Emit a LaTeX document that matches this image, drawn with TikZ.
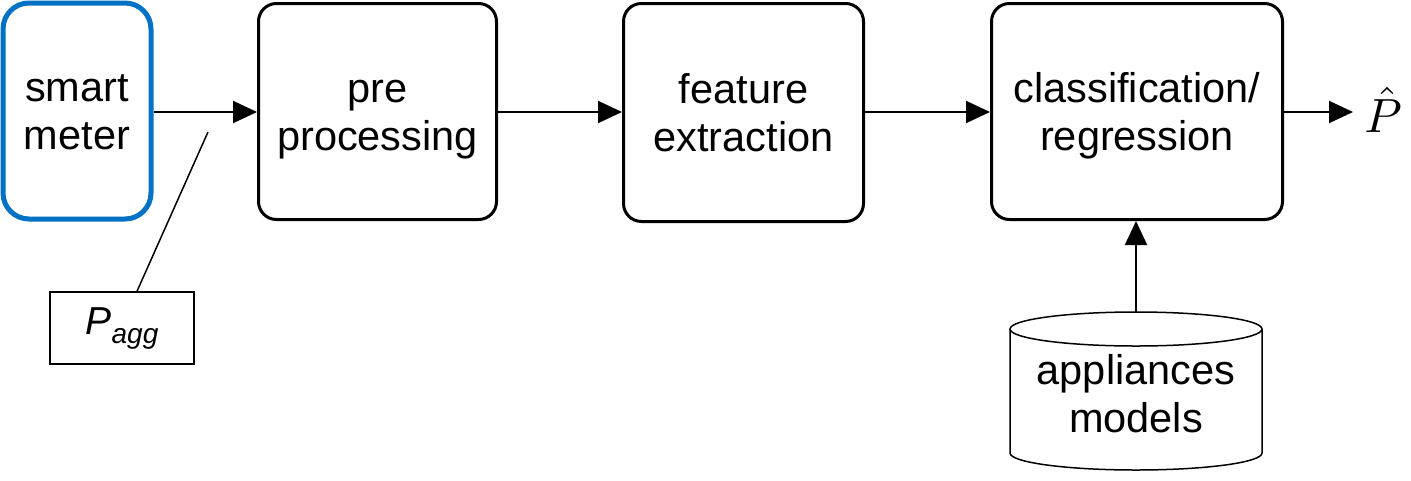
\documentclass[tikz,border=0pt]{standalone}
\usepackage{fontspec}
\setmainfont{Liberation Sans}
\usetikzlibrary{arrows.meta,calc}
\definecolor{smblue}{RGB}{0,114,198}
\newcommand\firststrut{\rule{0pt}{38pt}}
\newcommand\laststrut{\vphantom{Agp}}
\begin{document}
\begin{tikzpicture}[x=1pt,y=-1pt,
  block/.style={draw=black,line width=3pt,rounded corners=18pt,fill=white,
    align=center,inner sep=0pt,font=\fontsize{41.5}{48}\selectfont},
  conn/.style={line width=2pt,-{Triangle[length=24pt,width=22pt]}},
  thin/.style={line width=1.5pt}]
\useasboundingbox (0,0) rectangle (1411,480);
\node[block,draw=smblue,line width=5pt,rounded corners=26pt,minimum width=148pt,minimum height=216pt] (sm) at (77,111) {\firststrut smart\\meter\laststrut};
\node[block,minimum width=238pt,minimum height=216pt] (pre) at (377.5,111.5) {\firststrut pre\\processing\laststrut};
\node[block,minimum width=240pt,minimum height=218pt] (fe) at (743.5,112.5) {\firststrut feature\\extraction\laststrut};
\node[block,minimum width=291pt,minimum height=216pt] (cl) at (1137,111.5) {\firststrut classification/\\regression\laststrut};
\node[inner sep=0pt] (ph) at (1383,110) {\scalebox{4.8}{$\hat{P}$}};
\coordinate (out) at (1353,112);
\draw[conn] (sm.east |- 0,112) -- (pre.west |- 0,112);
\draw[conn] (pre.east |- 0,112) -- (fe.west |- 0,112);
\draw[conn] (fe.east |- 0,112) -- (cl.west |- 0,112);
\draw[conn] (cl.east |- 0,112) -- (out);
% P_agg
\node[draw,thin,minimum width=144pt,minimum height=72pt,inner sep=0pt] (pagg) at (122,328)
  {\fontsize{39}{39}\selectfont\itshape P\raisebox{-9pt}{\fontsize{28}{28}\selectfont agg}};
\coordinate (tick) at (208,132);
\draw[thin] (tick) -- ($(pagg.north)+(15,0)$);
% cylinder
\coordinate (cyltop) at (1136,312);
\draw[line width=1.5pt,fill=white] (1010,329) -- (1010,453) arc[start angle=180,end angle=360,x radius=126,y radius=-17] -- (1262,329);
\draw[line width=1.5pt] (1136,329) ellipse[x radius=126,y radius=17];
\node[align=center,inner sep=0pt,font=\fontsize{41.5}{48}\selectfont] (am) at (1136,394) {\firststrut appliances\\models\laststrut};
\draw[conn] (cyltop) -- (cl.south -| cyltop);
\end{tikzpicture}
\end{document}
